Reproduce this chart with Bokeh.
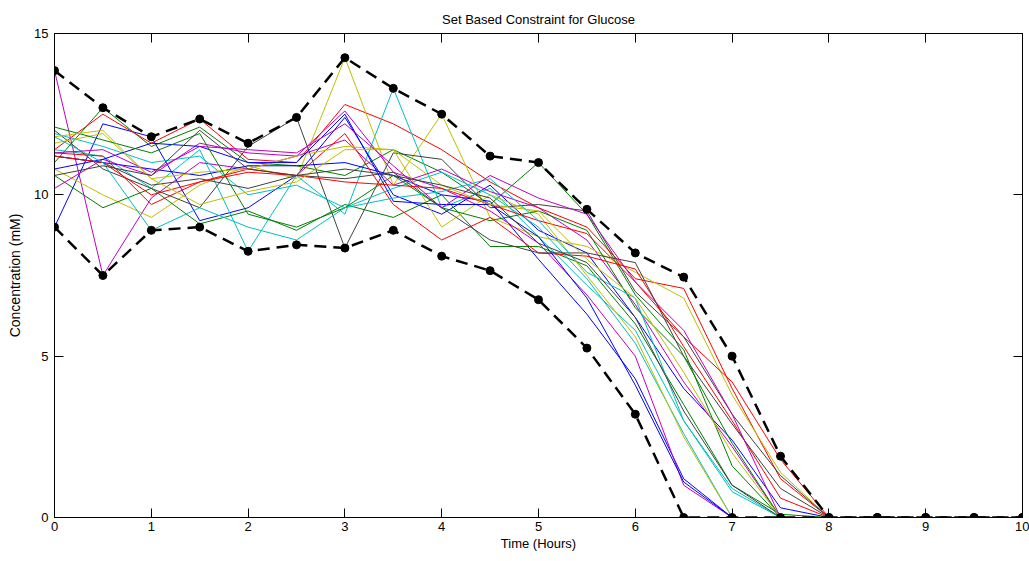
from bokeh.plotting import figure
from bokeh.models import Range1d, LinearAxis, FixedTicker, CustomLabelingPolicy
from bokeh.embed import file_html
from bokeh.resources import INLINE

# --- data -------------------------------------------------------------
hours = [0, 0.5, 1, 1.5, 2, 2.5, 3, 3.5, 4, 4.5, 5, 5.5, 6, 6.5, 7, 7.5, 8, 8.5, 9, 9.5, 10]
trace_hours = [0, 0.5, 1, 1.5, 2, 2.5, 3, 3.5, 4, 4.5, 5, 5.5, 6, 6.5, 7, 7.5, 8]

upper_bound = [13.85, 12.7, 11.8, 12.35, 11.6, 12.4, 14.25, 13.3, 12.5, 11.2, 11.0, 9.55,
               8.2, 7.45, 5.0, 1.9, 0.0, 0.0, 0.0, 0.0, 0.0]
lower_bound = [9.0, 7.5, 8.9, 9.0, 8.25, 8.45, 8.35, 8.9, 8.1, 7.65, 6.75, 5.25,
               3.2, 0.0, 0.0, 0.0, 0.0, 0.0, 0.0, 0.0, 0.0]

s01 = [9.0, 12.2, 11.8, 9.2, 9.6, 10.6, 12.4, 10.0, 9.4, 10.3, 8.9, 8.2, 6.2, 4.0, 2.4, 0.3, 0]
s02 = [11.0, 12.7, 11.5, 12.1, 11.0, 10.9, 10.6, 11.4, 10.7, 9.7, 11.0, 9.4, 6.9, 5.2, 1.6, 0.0, 0]
s03 = [11.4, 12.5, 11.6, 12.35, 11.1, 11.0, 12.8, 12.2, 11.4, 10.4, 9.6, 9.0, 7.4, 7.1, 4.0, 1.2, 0]
s04 = [11.4, 11.2, 10.2, 11.4, 8.25, 10.6, 9.4, 13.3, 9.6, 10.2, 8.7, 7.2, 5.8, 3.0, 0.8, 0.0, 0]
s05 = [13.85, 7.5, 9.9, 11.0, 10.8, 11.2, 11.7, 10.3, 10.8, 10.1, 9.6, 8.6, 6.6, 4.2, 2.2, 0.0, 0]
s06 = [10.8, 10.0, 9.3, 10.3, 10.9, 10.5, 14.25, 10.3, 12.5, 9.3, 8.7, 8.4, 7.6, 6.8, 3.8, 1.4, 0]
s07 = [12.0, 10.8, 10.2, 9.6, 11.5, 12.4, 8.35, 11.3, 11.1, 9.6, 9.7, 9.5, 7.0, 5.6, 3.2, 1.3, 0]
s08 = [11.2, 11.0, 10.8, 10.6, 10.9, 10.9, 11.0, 10.6, 10.0, 9.8, 8.0, 6.3, 4.3, 1.2, 0.0, 0.0, 0]
s09 = [10.6, 9.6, 10.2, 9.1, 9.5, 8.9, 9.7, 9.3, 10.0, 8.4, 8.4, 7.8, 6.0, 3.5, 1.0, 0.1, 0]
s10 = [11.3, 11.2, 9.7, 10.4, 10.8, 10.6, 11.9, 9.7, 8.6, 9.3, 8.2, 8.1, 7.7, 5.3, 3.0, 0.6, 0]
s11 = [11.9, 11.5, 11.0, 11.2, 10.0, 10.3, 9.6, 10.2, 10.7, 10.0, 9.0, 7.4, 5.4, 2.6, 0.0, 0.0, 0]
s12 = [10.2, 11.1, 10.6, 11.6, 11.3, 11.2, 12.6, 10.7, 10.2, 9.5, 8.5, 6.9, 5.0, 1.0, 0.0, 0.0, 0]
s13 = [11.6, 11.9, 10.5, 10.7, 10.8, 11.2, 11.5, 11.4, 9.0, 10.0, 9.4, 7.5, 5.6, 2.5, 0.0, 0.0, 0]
s14 = [11.2, 11.0, 10.3, 10.5, 10.2, 10.6, 10.5, 10.7, 9.6, 8.6, 8.2, 8.2, 7.9, 5.0, 2.9, 0.9, 0]
s15 = [10.8, 11.1, 11.6, 11.5, 11.0, 11.0, 12.5, 9.8, 9.7, 9.7, 8.7, 6.8, 4.1, 1.1, 0.0, 0.0, 0]
s16 = [12.1, 11.7, 11.3, 11.9, 9.4, 9.0, 9.6, 10.6, 9.6, 9.2, 9.5, 8.9, 6.5, 5.0, 2.3, 0.0, 0]
s17 = [11.2, 11.0, 10.0, 10.4, 10.7, 10.6, 10.4, 10.3, 10.2, 9.7, 9.2, 8.8, 7.3, 5.6, 4.2, 1.8, 0]
s18 = [11.8, 11.0, 8.9, 9.6, 9.0, 8.6, 9.6, 9.9, 10.1, 10.5, 9.2, 7.6, 6.8, 3.0, 0.9, 0.0, 0]
s19 = [11.3, 11.4, 10.7, 11.5, 11.4, 11.3, 12.2, 10.9, 9.6, 10.6, 9.9, 9.4, 7.3, 5.8, 3.2, 0.0, 0]
s20 = [11.8, 12.0, 10.5, 9.7, 10.1, 10.4, 11.4, 11.4, 10.3, 9.7, 9.5, 8.0, 6.8, 4.5, 2.0, 0.0, 0]
s21 = [10.6, 10.9, 10.6, 12.0, 10.8, 10.6, 10.8, 10.6, 10.3, 9.9, 8.5, 7.9, 6.2, 3.3, 1.0, 0.0, 0]

traces = [s01, s02, s03, s04, s05, s06, s07, s08, s09, s10, s11, s12, s13, s14,
          s15, s16, s17, s18, s19, s20, s21]

x_ticks = [0, 1, 2, 3, 4, 5, 6, 7, 8, 9, 10]
y_ticks = [0, 5, 10, 15]

# MATLAB classic colour order
palette = ["#0000FF", "#008000", "#FF0000", "#00BFBF", "#BF00BF", "#BFBF00", "#404040"]

FONT = "Liberation Sans"

p = figure(width=1029, height=561, output_backend="svg", toolbar_location=None,
           x_range=Range1d(0, 10), y_range=Range1d(0, 15),
           min_border_left=54, min_border_right=7, min_border_top=33, min_border_bottom=44,
           title="Set Based Constraint for Glucose")

p.title.align = "center"
p.title.text_font = FONT
p.title.text_font_size = "13px"
p.title.text_font_style = "normal"
p.title.text_color = "#000000"
p.title.offset = 0
p.title.standoff = 13

p.xgrid.visible = False
p.ygrid.visible = False
p.outline_line_color = "#000000"
p.outline_line_width = 1
p.background_fill_color = "white"
p.border_fill_color = "white"

for i, ys in enumerate(traces):
    p.line(trace_hours, ys, line_color=palette[i % len(palette)], line_width=1)

for bound in (upper_bound, lower_bound):
    p.line(hours, bound, line_color="black", line_width=2.5, line_dash="12 7")
    p.scatter(hours, bound, size=8, marker="circle", fill_color="black", line_color="black")

for ax in (p.xaxis[0], p.yaxis[0]):
    ax.major_tick_in = 9
    ax.major_tick_out = 0
    ax.minor_tick_line_color = None
    ax.axis_line_color = "#000000"
    ax.major_tick_line_color = "#000000"
    ax.major_label_text_font = FONT
    ax.major_label_text_font_size = "13px"
    ax.major_label_text_color = "#000000"
    ax.axis_label_text_font = FONT
    ax.axis_label_text_font_style = "normal"
    ax.axis_label_text_color = "#000000"

p.xaxis[0].ticker = FixedTicker(ticks=x_ticks)
p.yaxis[0].ticker = FixedTicker(ticks=y_ticks)
p.xaxis[0].axis_label = "Time (Hours)"
p.yaxis[0].axis_label = "Concentration (mM)"
p.xaxis[0].axis_label_text_font_size = "13px"
p.yaxis[0].axis_label_text_font_size = "14px"
p.xaxis[0].major_label_standoff = 4
p.xaxis[0].axis_label_standoff = 2
p.yaxis[0].major_label_standoff = 6
p.yaxis[0].axis_label_standoff = 8

HIDE = "return new indices.constructor(indices.size, 0);"

top_axis = LinearAxis(ticker=FixedTicker(ticks=x_ticks), major_tick_in=9, major_tick_out=0,
                      minor_tick_line_color=None,
                      major_label_policy=CustomLabelingPolicy(code=HIDE),
                      major_label_text_font_size="0px",
                      major_label_standoff=0, axis_line_color="#000000")
right_axis = LinearAxis(ticker=FixedTicker(ticks=y_ticks), major_tick_in=9, major_tick_out=0,
                        minor_tick_line_color=None,
                        major_label_policy=CustomLabelingPolicy(code=HIDE),
                        major_label_text_font_size="0px",
                        major_label_standoff=0, axis_line_color="#000000")
p.add_layout(top_axis, "above")
p.add_layout(right_axis, "right")

open("out.html", "w").write(file_html(p, INLINE))
